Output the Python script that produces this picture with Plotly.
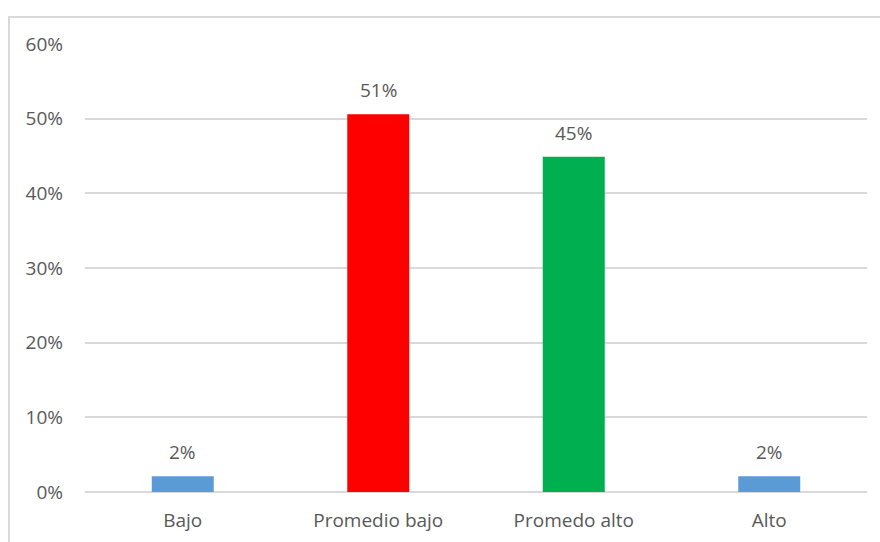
import plotly.graph_objects as go

categories = ["Bajo", "Promedio bajo", "Promedo alto", "Alto"]
values = [0.021, 0.506, 0.449, 0.021]
colors = ["#5B9BD5", "#FF0000", "#00B050", "#5B9BD5"]
tick_vals = [0, 0.1, 0.2, 0.3, 0.4, 0.5, 0.6]

FONT = "Open Sans"
GRAY = "#595959"
FS = 19

fig = go.Figure()
fig.add_trace(go.Bar(
    x=categories, y=values, marker=dict(color=colors, line=dict(width=0)),
    width=0.317, hoverinfo="skip",
))

for c, v in zip(categories, values):
    fig.add_annotation(
        x=c, y=v, text=f"{round(v * 100)}%", showarrow=False,
        yanchor="bottom", yshift=9,
        font=dict(family=FONT, size=FS, color=GRAY),
    )

L, R, T, B = 85, 13, 44, 50
W, H = 880, 542
pw, ph = W - L - R, H - T - B
# outer chart border (light gray frame)
fig.add_shape(
    type="rect", xref="paper", yref="paper",
    x0=(9 - L) / pw, x1=(W + 5 - L) / pw,
    y0=-(H + 5 - T - ph) / ph, y1=(H - 17 - B) / ph,
    line=dict(color="#D9D9D9", width=2), fillcolor="rgba(0,0,0,0)", layer="below",
)

fig.update_layout(
    width=W, height=H,
    margin=dict(l=L, r=R, t=T, b=B, pad=0, autoexpand=False),
    paper_bgcolor="white", plot_bgcolor="white",
    showlegend=False,
    font=dict(family=FONT, size=FS, color=GRAY),
    xaxis=dict(
        showgrid=False, showline=False, zeroline=False, ticks="",
        tickfont=dict(family=FONT, size=FS, color=GRAY),
        ticklabelstandoff=15, automargin=False,
    ),
    yaxis=dict(
        range=[0, 0.6], tickvals=tick_vals, tickformat=".0%",
        showgrid=True, gridcolor="#D9D9D9", gridwidth=1.5,
        zeroline=True, zerolinecolor="#D9D9D9", zerolinewidth=1.5,
        showline=False, ticks="",
        tickfont=dict(family=FONT, size=FS, color=GRAY),
        ticklabelstandoff=21, automargin=False,
    ),
)

fig.write_html("out.html")
